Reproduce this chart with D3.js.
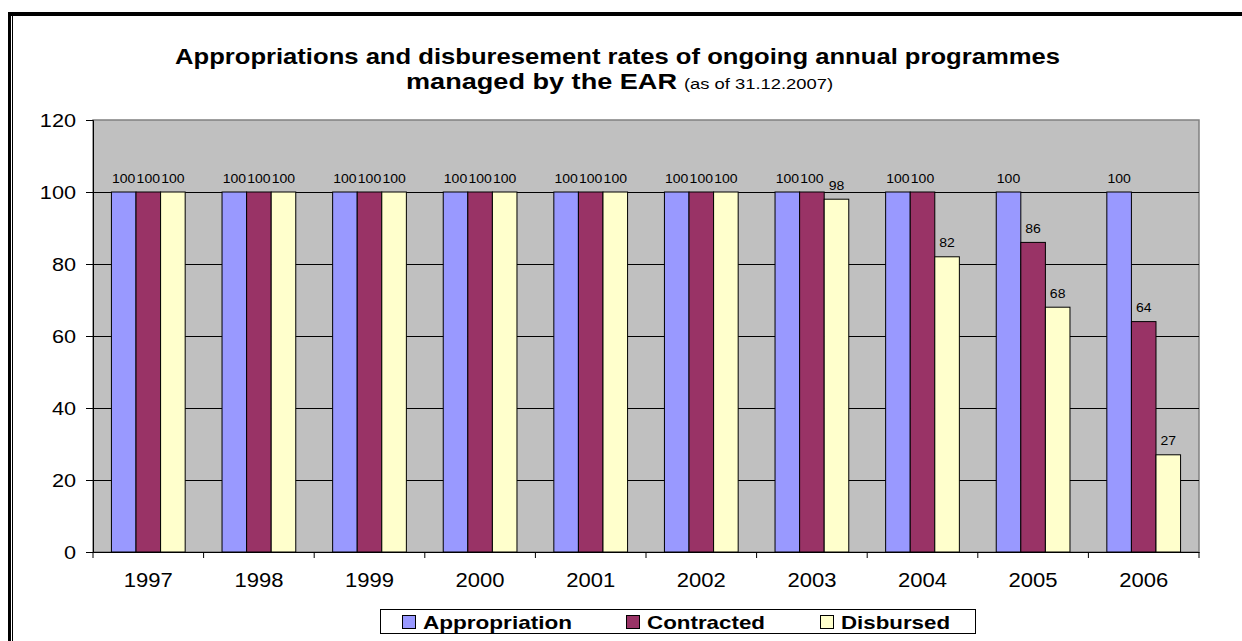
<!DOCTYPE html>
<html><head><meta charset="utf-8">
<script src="https://cdn.jsdelivr.net/npm/d3@7"></script>
<style>body{margin:0;background:#fff;}svg{display:block;font-family:Arial,"Liberation Sans",sans-serif;}</style>
</head><body>
<svg id="c" width="1242" height="641"></svg>
<script>
const years = ["1997","1998","1999","2000","2001","2002","2003","2004","2005","2006"];
const seriesNames = ["Appropriation","Contracted","Disbursed"];
const appropriation = [100,100,100,100,100,100,100,100,100,100];
const contracted = [100,100,100,100,100,100,100,100,86,64];
const disbursed = [100,100,100,100,100,100,98,82,68,27];
const yTicks = [0,20,40,60,80,100,120];
const colors = ["#9999FF","#993366","#FFFFCC"];
const FONT = "Arial,'Liberation Sans',sans-serif";

const svg = d3.select("#c");
function stretch(sel, k){
  sel.each(function(){
    const len = this.getComputedTextLength();
    d3.select(this).attr("textLength", len*k).attr("lengthAdjust","spacingAndGlyphs");
  });
}
// frame
svg.append("rect").attr("x",8).attr("y",12).attr("width",1234).attr("height",4).attr("fill","#000");
svg.append("rect").attr("x",8).attr("y",12).attr("width",3).attr("height",629).attr("fill","#000");
svg.append("rect").attr("x",12).attr("y",16).attr("width",1).attr("height",625).attr("fill","#000");

const L=93,T=120,R=1199,B=552;
const x = d3.scaleBand().domain(years).range([L,R]);
const y = d3.scaleLinear().domain([0,120]).range([B,T]);
const barW = x.bandwidth()/4.5;
const data = [appropriation,contracted,disbursed];

svg.append("rect").attr("x",L).attr("y",T).attr("width",R-L).attr("height",B-T)
  .attr("fill","#C0C0C0").attr("stroke","#808080").attr("stroke-width",1.5);
svg.append("g").selectAll("line").data(yTicks.filter(d=>d>0&&d<120)).join("line")
  .attr("x1",L).attr("x2",R).attr("y1",d=>Math.round(y(d))+0.5).attr("y2",d=>Math.round(y(d))+0.5)
  .attr("stroke","#000").attr("stroke-width",1);

seriesNames.forEach((s,si)=>{
  const g = svg.append("g");
  g.selectAll("rect").data(years).join("rect")
    .attr("x",(d)=>x(d)+barW*0.75+si*barW)
    .attr("y",(d,i)=>y(data[si][i]))
    .attr("width",barW)
    .attr("height",(d,i)=>B-y(data[si][i]))
    .attr("fill",colors[si]).attr("stroke","#000").attr("stroke-width",1);
  const lab = g.selectAll("text").data(years).join("text")
    .attr("x",(d)=>x(d)+barW*1.25+si*barW)
    .attr("y",(d,i)=>y(data[si][i])-9.5)
    .attr("text-anchor","middle").attr("font-size",12.5).attr("fill","#000")
    .text((d,i)=>data[si][i]);
  stretch(lab,1.12);
});

const ya = svg.append("g").attr("transform",`translate(${L},0)`)
  .call(d3.axisLeft(y).tickValues(yTicks).tickSize(7).tickPadding(10));
ya.select(".domain").attr("stroke","#000");
ya.selectAll(".tick line").attr("stroke","#000");
const yl = ya.selectAll("text").attr("font-size",19).attr("font-family",FONT).attr("fill","#000").attr("dy","0.36em");
stretch(yl,1.14);

const xa = svg.append("g").attr("transform",`translate(0,${B})`)
  .call(d3.axisBottom(x).tickSize(0).tickPadding(0));
xa.select(".domain").attr("stroke","#000");
const xl = xa.selectAll("text").attr("font-size",19.5).attr("font-family",FONT).attr("fill","#000")
  .attr("dy",0).attr("y",35);
stretch(xl,1.13);
xa.append("g").selectAll("line").data(years.concat(["end"])).join("line")
  .attr("x1",(d,i)=>i<years.length?x(d):R).attr("x2",(d,i)=>i<years.length?x(d):R)
  .attr("y1",0).attr("y2",6).attr("stroke","#000");

// title
svg.append("text").attr("x",175).attr("y",64)
  .attr("font-size",22.5).attr("font-weight","bold").attr("fill","#000")
  .attr("textLength",885).attr("lengthAdjust","spacingAndGlyphs")
  .text("Appropriations and disburesement rates of ongoing annual programmes");
svg.append("text").attr("x",406).attr("y",89)
  .attr("font-size",22.5).attr("font-weight","bold").attr("fill","#000")
  .attr("textLength",271).attr("lengthAdjust","spacingAndGlyphs")
  .text("managed by the EAR");
svg.append("text").attr("x",684).attr("y",89)
  .attr("font-size",15.5).attr("fill","#000")
  .attr("textLength",149).attr("lengthAdjust","spacingAndGlyphs")
  .text("(as of 31.12.2007)");

// legend
svg.append("rect").attr("x",380.5).attr("y",609.5).attr("width",595).attr("height",24)
  .attr("fill","#fff").attr("stroke","#000").attr("stroke-width",1);
const legX = [402,626,820];
const legTextX = [423,647,841];
const legTextW = [149,118,109];
seriesNames.forEach((s,i)=>{
  svg.append("rect").attr("x",legX[i]+0.5).attr("y",615.5).attr("width",13).attr("height",13)
    .attr("fill",colors[i]).attr("stroke","#000");
  svg.append("text").attr("x",legTextX[i]).attr("y",629).attr("font-size",18.5).attr("font-weight","bold")
    .attr("fill","#000").attr("textLength",legTextW[i]).attr("lengthAdjust","spacingAndGlyphs").text(s);
});
</script>
</body></html>
